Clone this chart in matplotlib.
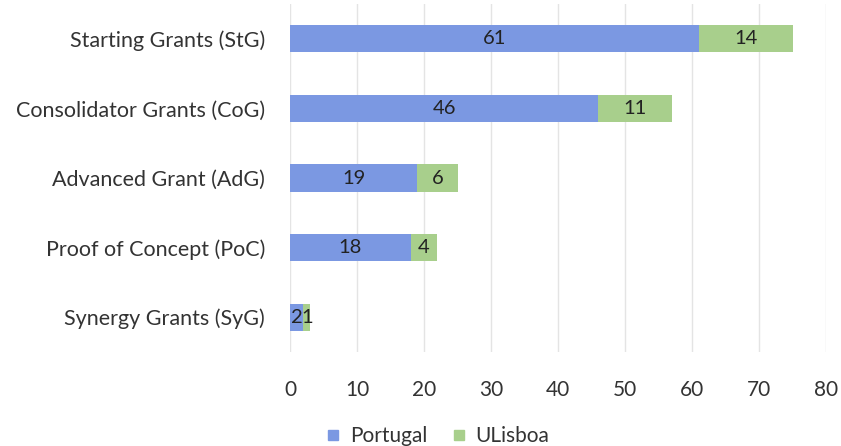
import matplotlib
matplotlib.use("Agg")
import matplotlib.pyplot as plt
from matplotlib.lines import Line2D

categories = ["Starting Grants (StG)", "Consolidator Grants (CoG)", "Advanced Grant (AdG)",
              "Proof of Concept (PoC)", "Synergy Grants (SyG)"]
portugal = [61, 46, 19, 18, 2]
ulisboa = [14, 11, 6, 4, 1]
xticks = [0, 10, 20, 30, 40, 50, 60, 70, 80]

blue = "#7b98e2"
green = "#a8cf8c"
txt = "#333333"

plt.rcParams['font.family'] = ['Lato', 'DejaVu Sans']

fig = plt.figure(figsize=(8.41, 4.46), dpi=100)
ax = fig.add_axes([290/841, 1-352/446, 536/841, 348/446])

y = list(range(len(categories)))
h = 0.39
ax.barh(y, portugal, height=h, color=blue, zorder=2)
ax.barh(y, ulisboa, left=portugal, height=h, color=green, zorder=2)
for i in y:
    ax.text(portugal[i]/2, i, str(portugal[i]), ha="center", va="center", fontsize=14.5, color="#222222", zorder=3)
    ax.text(portugal[i] + ulisboa[i]/2, i, str(ulisboa[i]), ha="center", va="center", fontsize=14.5, color="#222222", zorder=3)

ax.set_xlim(0, 80)
ax.set_ylim(len(categories)-0.5, -0.5)
ax.set_xticks(xticks)
ax.set_xticklabels([str(t) for t in xticks], fontsize=15, color=txt)
ax.set_yticks(y)
ax.set_yticklabels(categories, fontsize=15.5, color=txt)
ax.tick_params(axis="both", length=0)
ax.tick_params(axis="x", pad=20)
ax.tick_params(axis="y", pad=18)
ax.grid(axis="x", color="#e4e4e4", linewidth=1, zorder=0)
for s in ax.spines.values():
    s.set_visible(False)

handles = [Line2D([], [], marker="s", linestyle="none", markersize=7, color=blue),
           Line2D([], [], marker="s", linestyle="none", markersize=7, color=green)]
fig.legend(handles, ["Portugal", "ULisboa"], loc="center", bbox_to_anchor=(437/841, 1-436/446),
           ncol=2, frameon=False, fontsize=15, handlelength=0.8, handletextpad=0.4,
           columnspacing=1.1, labelcolor=txt)

fig.savefig("out.png", dpi=100)
